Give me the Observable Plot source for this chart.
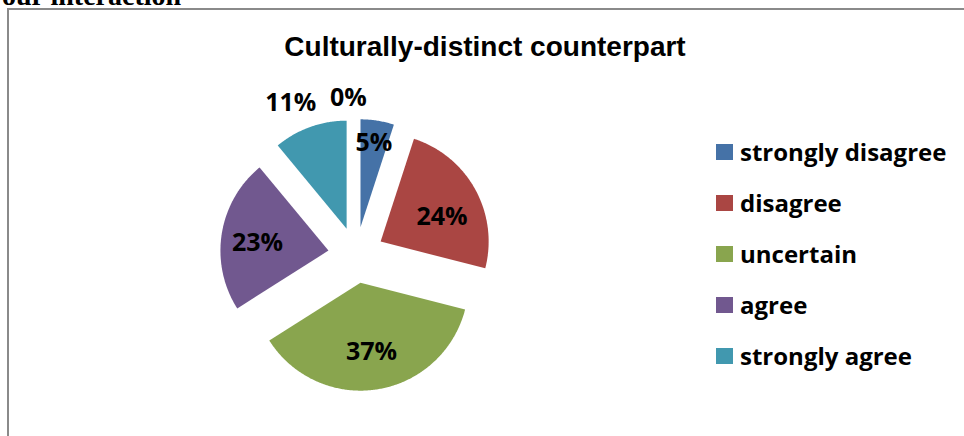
<!DOCTYPE html>
<html>
<head>
<meta charset="utf-8">
<script src="https://cdn.jsdelivr.net/npm/d3@7"></script>
<script src="https://cdn.jsdelivr.net/npm/@observablehq/plot@0.6"></script>
<style>
  html, body { margin: 0; padding: 0; background: #fff; }
  #wrap { position: relative; width: 964px; height: 436px; overflow: hidden; }
  #frame { position: absolute; left: 7px; top: 8px; width: 1000px; height: 500px;
           border-left: 2px solid #8a8a8a; border-top: 2px solid #8a8a8a; }
  #above { position: absolute; left: 2px; top: -18px; font: bold 28px "Liberation Serif", serif; line-height: 28px; white-space: nowrap; }
  #title { position: absolute; left: 485px; top: 33px; transform: translateX(-50%);
           font: bold 28px "Liberation Sans", Arial, sans-serif; line-height: 28px; white-space: nowrap; }
  #legend { position: absolute; left: 716px; top: 126px; font: 700 24px "Open Sans", sans-serif; }
  .row { display: flex; align-items: center; height: 51px; white-space: nowrap; }
  .sw { width: 17px; height: 16px; margin-right: 7px; }
  #chart { position: absolute; left: 0; top: 0; }
</style>
</head>
<body>
<div id="wrap">
  <div id="frame"></div>
  <div id="above">our interaction</div>
  <div id="chart"></div>
  <div id="title"></div>
  <div id="legend"></div>
</div>
<script>
// ---- data ----
const chartTitle = "Culturally-distinct counterpart";
const categories = ["strongly disagree", "disagree", "uncertain", "agree", "strongly agree", ""];
const values = [5, 24, 37, 23, 11, 0];
const labels = ["5%", "24%", "37%", "23%", "11%", "0%"];
const legendCategories = ["strongly disagree", "disagree", "uncertain", "agree", "strongly agree"];

// ---- styling / layout ----
const colors = ["#4572A7", "#AA4643", "#89A54E", "#71588F", "#4198AF", "#000000"];
const W = 964, H = 436;
const R = 108;                 // pie radius in px
const cx = 355.6, cy = 254.5;  // pie centre in px
const explode = 28 / R;        // explosion distance in radius units
const labelRadius = [1.05, 0.87, 0.91, 0.92, 1.53, 1.46];   // from pie centre, radius units
const labelTurn = [0, 5, 0, -2, -3.5, -2.8];                 // degrees

document.getElementById("title").textContent = chartTitle;

const total = d3.sum(values);
let acc = 0;
const slicePts = [];
const labelPts = [];
values.forEach((v, i) => {
  const a0 = acc / total * 2 * Math.PI;
  acc += v;
  const a1 = acc / total * 2 * Math.PI;
  const m = (a0 + a1) / 2;
  const ex = v > 0 ? explode : 0;
  const ox = ex * Math.sin(m), oy = ex * Math.cos(m);
  if (v > 0) {
    slicePts.push({cat: categories[i], x: ox, y: oy});
    const n = Math.max(2, Math.ceil((a1 - a0) / 0.01));
    for (let k = 0; k <= n; k++) {
      const t = a0 + (a1 - a0) * k / n;
      slicePts.push({cat: categories[i], x: ox + Math.sin(t), y: oy + Math.cos(t)});
    }
    slicePts.push({cat: categories[i], x: ox, y: oy});
  }
  const la = m + labelTurn[i] * Math.PI / 180;
  labelPts.push({label: labels[i], x: labelRadius[i] * Math.sin(la), y: labelRadius[i] * Math.cos(la)});
});

const chart = Plot.plot({
  width: W, height: H,
  marginTop: 0, marginRight: 0, marginBottom: 0, marginLeft: 0,
  x: {domain: [-cx / R, (W - cx) / R], axis: null},
  y: {domain: [-(H - cy) / R, cy / R], axis: null},
  color: {domain: categories, range: colors},
  style: {background: "transparent", overflow: "visible"},
  marks: [
    Plot.line(slicePts, {x: "x", y: "y", z: "cat", fill: "cat", stroke: "none", curve: "linear"}),
    Plot.text(labelPts, {x: "x", y: "y", text: "label", fill: "#000", fontSize: 25, fontWeight: 700,
      fontFamily: "'Open Sans', sans-serif", textAnchor: "middle", lineAnchor: "middle"})
  ]
});
document.getElementById("chart").appendChild(chart);

const legend = document.getElementById("legend");
legendCategories.forEach(c => {
  const row = document.createElement("div");
  row.className = "row";
  const sw = document.createElement("div");
  sw.className = "sw";
  sw.style.background = colors[categories.indexOf(c)];
  const tx = document.createElement("span");
  tx.textContent = c;
  row.appendChild(sw); row.appendChild(tx);
  legend.appendChild(row);
});
</script>
</body>
</html>
